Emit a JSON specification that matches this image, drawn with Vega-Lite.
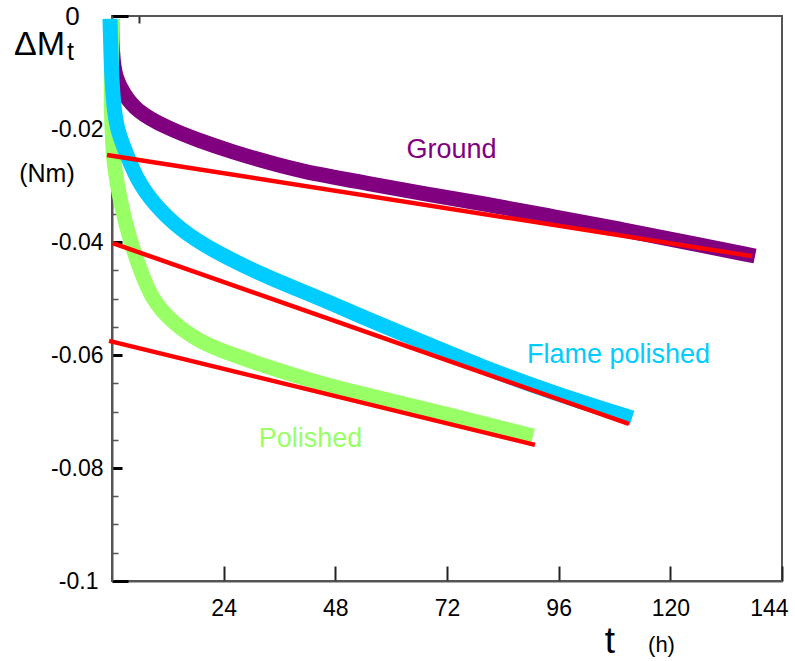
{
  "$schema": "https://vega.github.io/schema/vega-lite/v6.json",
  "width": 670,
  "height": 565,
  "autosize": "none",
  "padding": {"left": 112, "top": 16, "right": 13, "bottom": 80},
  "background": "white",
  "config": {
    "view": {"stroke": "#555555", "strokeWidth": 2},
    "font": "Liberation Sans",
    "axis": {"grid": false, "labelFont": "Liberation Sans"}
  },
  "datasets": {
    "curves": [
      {"s": "Ground", "t": 0, "v": -0.001},
      {"s": "Ground", "t": 0, "v": -0.00425},
      {"s": "Ground", "t": 0.2, "v": -0.00779},
      {"s": "Ground", "t": 0.8, "v": -0.01097},
      {"s": "Ground", "t": 2.4, "v": -0.01363},
      {"s": "Ground", "t": 5.16, "v": -0.01681},
      {"s": "Ground", "t": 11.82, "v": -0.01982},
      {"s": "Ground", "t": 18.91, "v": -0.02212},
      {"s": "Ground", "t": 26.01, "v": -0.02407},
      {"s": "Ground", "t": 33.31, "v": -0.02584},
      {"s": "Ground", "t": 40.41, "v": -0.02743},
      {"s": "Ground", "t": 53.3, "v": -0.02938},
      {"s": "Ground", "t": 66.2, "v": -0.03133},
      {"s": "Ground", "t": 79.09, "v": -0.0331},
      {"s": "Ground", "t": 94.14, "v": -0.0354},
      {"s": "Ground", "t": 109.18, "v": -0.0377},
      {"s": "Ground", "t": 124.23, "v": -0.04018},
      {"s": "Ground", "t": 138.2, "v": -0.04248},
      {"s": "Polished", "t": 0.11, "v": -0.0005},
      {"s": "Polished", "t": -0.11, "v": -0.0078},
      {"s": "Polished", "t": -0.21, "v": -0.01487},
      {"s": "Polished", "t": 0, "v": -0.02018},
      {"s": "Polished", "t": 0.32, "v": -0.02549},
      {"s": "Polished", "t": 1.07, "v": -0.02956},
      {"s": "Polished", "t": 2.15, "v": -0.03398},
      {"s": "Polished", "t": 3.44, "v": -0.03841},
      {"s": "Polished", "t": 5.8, "v": -0.04442},
      {"s": "Polished", "t": 8.6, "v": -0.05027},
      {"s": "Polished", "t": 13.11, "v": -0.05434},
      {"s": "Polished", "t": 18.91, "v": -0.0577},
      {"s": "Polished", "t": 26.01, "v": -0.06},
      {"s": "Polished", "t": 36.75, "v": -0.06301},
      {"s": "Polished", "t": 47.5, "v": -0.06566},
      {"s": "Polished", "t": 53.3, "v": -0.06673},
      {"s": "Polished", "t": 72.64, "v": -0.07062},
      {"s": "Polished", "t": 90.48, "v": -0.07434},
      {"s": "Flame polished", "t": -0.43, "v": -0.0005},
      {"s": "Flame polished", "t": -0.21, "v": -0.0078},
      {"s": "Flame polished", "t": 0.21, "v": -0.01487},
      {"s": "Flame polished", "t": 1.07, "v": -0.02018},
      {"s": "Flame polished", "t": 2.79, "v": -0.02372},
      {"s": "Flame polished", "t": 5.37, "v": -0.02903},
      {"s": "Flame polished", "t": 8.81, "v": -0.0331},
      {"s": "Flame polished", "t": 14.61, "v": -0.03788},
      {"s": "Flame polished", "t": 22.57, "v": -0.04195},
      {"s": "Flame polished", "t": 33.31, "v": -0.04619},
      {"s": "Flame polished", "t": 44.06, "v": -0.04973},
      {"s": "Flame polished", "t": 53.3, "v": -0.0531},
      {"s": "Flame polished", "t": 66.2, "v": -0.05752},
      {"s": "Flame polished", "t": 79.09, "v": -0.06195},
      {"s": "Flame polished", "t": 94.14, "v": -0.06655},
      {"s": "Flame polished", "t": 111.77, "v": -0.07115}
    ],
    "fits": [
      {"s": "Ground", "t": -1.07, "v": -0.0246},
      {"s": "Ground", "t": 137.6, "v": -0.0425},
      {"s": "Flame polished", "t": 0.15, "v": -0.0402},
      {"s": "Flame polished", "t": 111.1, "v": -0.0722},
      {"s": "Polished", "t": -0.64, "v": -0.0575},
      {"s": "Polished", "t": 90.9, "v": -0.0759}
    ],
    "series_labels": [
      {"s": "Ground", "t": 72.97, "v": -0.02513},
      {"s": "Flame polished", "t": 108.86, "v": -0.06142},
      {"s": "Polished", "t": 42.66, "v": -0.07628}
    ],
    "annot": [
      {"k": "dm", "label": "ΔM", "t": -15.58, "v": -0.0069},
      {"k": "sub", "label": "t", "t": -8.92, "v": -0.00779},
      {"k": "sup", "label": "0", "t": -8.49, "v": -0.0016},
      {"k": "unit", "label": "(Nm)", "t": -13.97, "v": -0.02938},
      {"k": "xt", "label": "t", "t": 107.03, "v": -0.11274},
      {"k": "xu", "label": "(h)", "t": 118.1, "v": -0.11257}
    ]
  },
  "resolve": {"scale": {"x": "independent"}, "axis": {"x": "independent"}},
  "layer": [
    {
      "encoding": {
        "x": {
          "field": "t", "type": "quantitative",
          "scale": {"domain": [0, 144], "nice": false, "zero": false},
          "axis": {
            "orient": "bottom",
            "values": [24, 48, 72, 96, 120, 144], "title": null,
            "domainColor": "#555555", "domainWidth": 2,
            "tickColor": "#222222", "tickWidth": 2, "tickSize": -15,
            "labelPadding": 31, "labelFontSize": 23, "labelColor": "black",
            "labelFlush": true, "labelFlushOffset": 6, "labelOverlap": false
          }
        },
        "y": {
          "field": "v", "type": "quantitative",
          "scale": {"domain": [-0.1, 0], "nice": false, "zero": false},
          "axis": {
            "values": [-0.1, -0.095, -0.09, -0.085, -0.08, -0.075, -0.07, -0.065, -0.06, -0.055, -0.05, -0.045, -0.04, -0.035, -0.03, -0.025, -0.02, -0.015, -0.01, -0.005, 0],
            "title": null,
            "labelExpr": "(datum.value === 0 || abs(datum.value * 50 - round(datum.value * 50)) > 0.001) ? '' : (datum.value < -0.095 ? '-0.1' : '-' + format(-datum.value, '.2f'))",
            "domainColor": "#555555", "domainWidth": 2,
            "tickColor": {"condition": {"test": "abs(datum.value * 50 - round(datum.value * 50)) < 0.001", "value": "black"}, "value": "#555555"},
            "tickWidth": {"condition": {"test": "abs(datum.value * 50 - round(datum.value * 50)) < 0.001", "value": 3}, "value": 1.5},
            "tickSize": {"condition": [
              {"test": "datum.value === 0 || datum.value < -0.095", "value": -16},
              {"test": "abs(datum.value * 50 - round(datum.value * 50)) < 0.001", "value": -10}
            ], "value": -6},
            "labelPadding": {"condition": {"test": "datum.value < -0.095", "value": 30}, "value": 19},
            "labelFontSize": 23, "labelColor": "black",
            "labelFlush": false, "labelOverlap": false
          }
        }
      },
      "layer": [
        {
          "data": {"name": "curves"},
          "transform": [{"filter": "datum.s === 'Ground'"}],
          "mark": {"type": "line", "color": "#800080", "strokeWidth": 15, "strokeJoin": "round", "interpolate": "basis", "clip": false},
          "encoding": {"order": {"field": "v", "sort": "descending"}}
        },
        {
          "data": {"name": "curves"},
          "transform": [{"filter": "datum.s === 'Polished'"}],
          "mark": {"type": "line", "color": "#99FF66", "strokeWidth": 15, "strokeJoin": "round", "interpolate": "basis", "clip": false},
          "encoding": {"order": {"field": "v", "sort": "descending"}}
        },
        {
          "data": {"name": "curves"},
          "transform": [{"filter": "datum.s === 'Flame polished'"}],
          "mark": {"type": "line", "color": "#00CCFF", "strokeWidth": 15, "strokeJoin": "round", "interpolate": "basis", "clip": false},
          "encoding": {"order": {"field": "v", "sort": "descending"}}
        },
        {
          "data": {"name": "fits"},
          "mark": {"type": "line", "color": "#FF0000", "strokeWidth": 4.5, "clip": false},
          "encoding": {"detail": {"field": "s"}}
        },
        {
          "data": {"name": "series_labels"},
          "mark": {"type": "text", "fontSize": 27, "align": "center", "baseline": "alphabetic", "font": "Liberation Sans"},
          "encoding": {
            "text": {"field": "s"},
            "color": {"field": "s", "type": "nominal", "scale": {"domain": ["Ground", "Flame polished", "Polished"], "range": ["#800080", "#00CCFF", "#99FF66"]}, "legend": null}
          }
        },
        {
          "data": {"name": "annot"},
          "transform": [{"filter": "datum.k === 'dm'"}],
          "mark": {"type": "text", "fontSize": 34, "align": "center", "baseline": "alphabetic", "color": "black"},
          "encoding": {"text": {"field": "label"}}
        },
        {
          "data": {"name": "annot"},
          "transform": [{"filter": "datum.k === 'sub'"}],
          "mark": {"type": "text", "fontSize": 25, "align": "center", "baseline": "alphabetic", "color": "black"},
          "encoding": {"text": {"field": "label"}}
        },
        {
          "data": {"name": "annot"},
          "transform": [{"filter": "datum.k === 'sup'"}],
          "mark": {"type": "text", "fontSize": 26, "align": "center", "baseline": "alphabetic", "color": "black"},
          "encoding": {"text": {"field": "label"}}
        },
        {
          "data": {"name": "annot"},
          "transform": [{"filter": "datum.k === 'unit'"}],
          "mark": {"type": "text", "fontSize": 25, "align": "center", "baseline": "alphabetic", "color": "black"},
          "encoding": {"text": {"field": "label"}}
        },
        {
          "data": {"name": "annot"},
          "transform": [{"filter": "datum.k === 'xt'"}],
          "mark": {"type": "text", "fontSize": 37, "align": "center", "baseline": "alphabetic", "color": "black"},
          "encoding": {"text": {"field": "label"}}
        },
        {
          "data": {"name": "annot"},
          "transform": [{"filter": "datum.k === 'xu'"}],
          "mark": {"type": "text", "fontSize": 22, "align": "center", "baseline": "alphabetic", "color": "black"},
          "encoding": {"text": {"field": "label"}}
        }
      ]
    },
    {
      "data": {"values": [{"t": 5.8}]},
      "mark": {"type": "point", "opacity": 0},
      "encoding": {
        "x": {
          "field": "t", "type": "quantitative",
          "scale": {"domain": [0, 144], "nice": false, "zero": false},
          "axis": {
            "orient": "top", "values": [5.8], "title": null, "labels": false, "domain": false,
            "tickColor": "#333333", "tickWidth": 2, "tickSize": -7
          }
        }
      }
    }
  ]
}
